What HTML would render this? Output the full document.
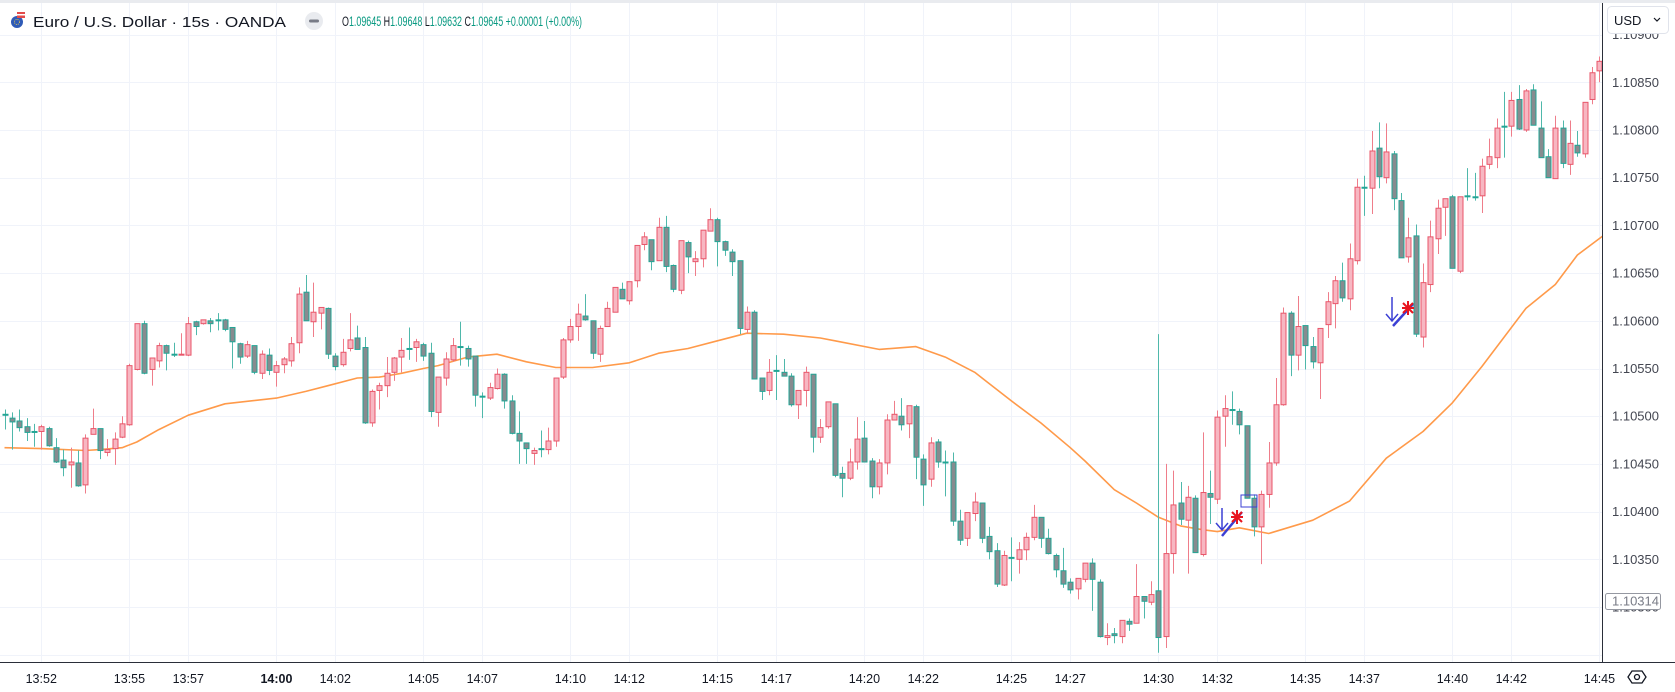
<!DOCTYPE html>
<html><head><meta charset="utf-8">
<style>
html,body{margin:0;padding:0;background:#fff;}
svg{display:block;font-family:"Liberation Sans",sans-serif;}
</style></head>
<body>
<svg id="chart" width="1675" height="692" viewBox="0 0 1675 692" xmlns="http://www.w3.org/2000/svg">
  <rect x="0" y="0" width="1675" height="692" fill="#ffffff"/>
  <rect x="0" y="0" width="1675" height="3" fill="#e9ebef"/>
  <g id="grid"></g>
  <g id="ma"></g>
  <g id="candles"></g>
  <g id="annotations">
    <g>
      <line x1="1222" y1="508" x2="1222" y2="529" stroke="#3b3fd4" stroke-width="1.5"/>
      <polyline points="1216,523 1222,530 1228,523" fill="none" stroke="#3b3fd4" stroke-width="1.5"/>
      <line x1="1222" y1="536" x2="1242" y2="512" stroke="#3b3fd4" stroke-width="2.5"/>
      <g stroke="#e8141e" stroke-width="2"><line x1="1231" y1="517" x2="1243" y2="517"/><line x1="1237" y1="510" x2="1237" y2="524"/><line x1="1232" y1="512" x2="1242" y2="522"/><line x1="1242" y1="512" x2="1232" y2="522"/></g>
      <rect x="1241" y="495" width="16" height="12" fill="none" stroke="#3b3fd4" stroke-width="1"/>
    </g>
    <g>
      <line x1="1392" y1="297" x2="1392" y2="320" stroke="#3b3fd4" stroke-width="1.5"/>
      <polyline points="1386,314 1392,321 1398,314" fill="none" stroke="#3b3fd4" stroke-width="1.5"/>
      <line x1="1393" y1="326" x2="1413" y2="304" stroke="#3b3fd4" stroke-width="2.5"/>
      <g stroke="#e8141e" stroke-width="2"><line x1="1402" y1="308" x2="1414" y2="308"/><line x1="1408" y1="301" x2="1408" y2="315"/><line x1="1403" y1="303" x2="1413" y2="313"/><line x1="1413" y1="303" x2="1403" y2="313"/></g>
    </g>
  </g>
  <rect x="1603" y="3" width="72" height="659" fill="#ffffff"/>
  <rect x="0" y="663" width="1675" height="29" fill="#ffffff"/>
  <line x1="1602.5" y1="3" x2="1602.5" y2="663" stroke="#2a2e39" stroke-width="1"/>
  <line x1="0" y1="662.5" x2="1675" y2="662.5" stroke="#2a2e39" stroke-width="1"/>
  <g id="yaxis"></g>
  <g id="xaxis"></g>
  <g>
    <rect x="1605.5" y="593.5" width="55" height="16" fill="#fff" stroke="#9598a1" rx="2"/>
    <text x="1612" y="605.5" font-size="13" fill="#787b86">1.10314</text>
  </g>
  <g>
    <rect x="1607.5" y="6.5" width="61" height="27" rx="4" fill="#fff" stroke="#e0e3eb"/>
    <text x="1614" y="25" font-size="13" fill="#131722">USD</text>
    <polyline points="1654,18 1657,21 1660,18" fill="none" stroke="#131722" stroke-width="1.2"/>
  </g>
  <g>
    <path d="M1628 677 L1632 671 L1642 671 L1646 677 L1642 683 L1632 683 Z" fill="none" stroke="#131722" stroke-width="1.3"/>
    <circle cx="1637" cy="677" r="2.5" fill="none" stroke="#131722" stroke-width="1.3"/>
  </g>
  <g>
    <g>
      <circle cx="17" cy="22" r="6" fill="#2f5bb7"/>
      <rect x="17" y="12" width="8" height="6" fill="#e24a4a"/>
      <rect x="17" y="14" width="8" height="1.5" fill="#fff"/>
      <circle cx="17" cy="22" r="2.5" fill="none" stroke="#f3d34a" stroke-width="0.8" stroke-dasharray="1 1"/>
    </g>
    <text x="33" y="27" font-size="15" fill="#131722" textLength="253" lengthAdjust="spacingAndGlyphs">Euro / U.S. Dollar · 15s · OANDA</text>
    <circle cx="314" cy="21" r="9" fill="#e9ebef"/>
    <rect x="309" y="19.5" width="10" height="3" rx="1.5" fill="#787b86"/>
    <text x="342" y="26" font-size="13.5" textLength="240" lengthAdjust="spacingAndGlyphs"><tspan fill="#131722">O</tspan><tspan fill="#089981">1.09645 </tspan><tspan fill="#131722">H</tspan><tspan fill="#089981">1.09648 </tspan><tspan fill="#131722">L</tspan><tspan fill="#089981">1.09632 </tspan><tspan fill="#131722">C</tspan><tspan fill="#089981">1.09645 +0.00001 (+0.00%)</tspan></text>
  </g>
</svg>
<script>
// prices stored in points (0.00001) above BASE = 1.10000
const BASE = 1.1;
const POINT = 0.00001;
const opens  = [502,498,495,489,484,484,487,467,454,449,451,428,481,487,462,466,478,491,549,597,549,558,574,565,564,564,599,597,600,601,601,593,576,563,574,545,564,546,554,558,577,630,599,608,613,563,554,571,582,572,493,527,532,546,562,571,572,575,566,504,540,559,573,571,563,521,519,529,544,516,482,472,461,466,465,474,541,580,594,605,600,565,594,609,633,621,642,680,685,663,698,658,632,682,662,665,694,706,683,672,663,591,609,540,527,548,546,542,512,527,544,478,489,513,440,435,452,477,453,426,451,496,500,492,510,455,434,473,452,452,390,372,398,409,374,359,323,352,350,360,373,394,372,354,338,326,319,329,346,326,268,272,269,285,283,311,305,317,269,356,409,391,414,355,419,413,500,507,505,490,414,384,418,451,512,608,564,595,573,556,596,618,642,623,663,740,739,781,750,775,726,667,689,583,638,686,719,730,652,731,730,731,764,771,804,804,832,800,842,802,772,749,802,764,784,775,832,862];
const highs  = [507,504,507,498,492,491,489,477,465,467,464,481,508,487,476,483,500,555,597,600,561,577,575,577,587,604,600,601,603,608,602,593,577,579,574,569,571,558,562,583,635,648,640,614,614,566,581,608,595,583,528,535,562,562,582,593,581,577,577,541,567,582,599,574,563,525,535,550,545,522,505,472,467,485,488,540,582,602,618,628,600,595,620,635,640,641,679,693,685,708,710,659,684,684,673,695,718,708,684,675,663,615,611,540,560,564,560,545,527,552,544,497,515,513,447,466,499,495,456,455,502,516,519,511,512,460,478,476,464,462,402,399,420,409,384,367,359,373,368,378,407,394,382,356,362,330,330,346,351,329,283,278,286,288,345,311,327,586,450,443,431,427,417,483,443,506,522,526,508,490,418,422,473,540,614,610,626,595,583,592,630,647,661,681,749,752,799,808,807,778,734,708,701,660,705,727,728,732,730,760,755,770,791,812,840,840,847,843,848,830,780,815,810,810,799,829,866,877];
const lows   = [486,465,484,474,468,465,468,451,437,425,426,419,481,455,458,449,477,490,548,544,532,551,548,562,564,563,585,596,588,590,589,550,555,561,544,539,543,531,545,552,566,600,583,591,560,548,552,568,570,492,489,507,520,537,546,559,557,558,499,489,532,557,553,552,510,498,517,528,508,481,450,450,449,457,460,468,539,577,579,600,560,557,594,609,623,617,635,674,653,663,651,630,628,650,647,656,694,657,668,647,586,587,539,517,522,517,542,510,497,510,462,472,487,436,415,433,444,452,414,418,439,496,485,477,434,406,426,446,416,385,365,364,390,367,350,321,322,327,335,349,370,362,355,331,320,314,308,326,296,268,260,262,262,275,283,288,302,252,257,335,386,335,357,353,387,408,468,491,481,414,374,345,404,448,511,542,548,549,550,518,582,592,620,611,659,710,712,739,744,716,666,661,583,572,630,670,689,655,650,726,726,713,759,760,771,793,800,798,805,771,750,749,760,753,772,771,827,850];
const closes = [501,494,488,483,483,489,469,452,446,452,427,477,487,464,465,476,492,553,597,545,561,574,566,565,565,597,594,601,597,600,591,578,562,575,546,565,548,553,560,576,628,600,609,614,565,552,567,580,570,493,526,532,545,561,569,571,578,563,505,541,560,574,572,560,522,520,530,544,516,482,474,466,464,465,474,540,580,594,607,601,566,592,613,635,623,641,679,688,662,698,657,633,684,667,665,695,706,683,674,662,592,609,539,526,546,547,542,512,527,546,478,488,515,438,435,452,476,452,426,451,496,502,491,511,457,428,472,452,451,390,370,399,410,372,358,324,354,351,360,373,394,372,356,339,324,318,330,346,329,269,270,270,286,282,311,306,313,268,356,407,392,415,357,420,415,499,508,506,491,414,384,418,451,512,608,564,594,574,557,592,620,642,624,665,740,739,778,751,777,728,666,687,586,640,688,718,728,655,730,730,729,762,772,802,803,831,801,841,805,771,750,802,765,786,776,829,860,872];
// moving average samples: candle index and value (points above BASE)
const maIdx = [0,5,11,13,16,18,21,25,30,37,41,44,48,51,54,57,59,63,67,71,75,80,85,89,93,97,101,106,111,113,119,124,128,132,137,141,145,147,151,154,157,160,163,165,168,172,178,183,188,193,197,201,207,211,214,218];
const maVal = [467,466,464,465,467,473,486,501,513,519,526,532,540,541,545,550,553,562,565,557,551,551,556,566,571,579,587,586,582,579,570,573,562,546,516,493,467,453,423,409,394,385,381,379,383,377,391,411,456,484,514,552,613,638,669,692];
// price axis ticks (points) and time axis ticks
const priceTicks = [250,300,350,400,450,500,550,600,650,700,750,800,850,900];
const timeLabels = ["13:52","13:55","13:57","14:00","14:02","14:05","14:07","14:10","14:12","14:15","14:17","14:20","14:22","14:25","14:27","14:30","14:32","14:35","14:37","14:40","14:42","14:45"];
const timeIdx    = [5,17,25,37,45,57,65,77,85,97,105,117,125,137,145,157,165,177,185,197,205,217];

const NS = "http://www.w3.org/2000/svg";
function yOf(v){ return 607 - (v - 300) * 0.954; }
function xOf(i){ return 4.5 + i * 7.35; }
function mk(tag, attrs, parent){
  const e = document.createElementNS(NS, tag);
  for (const k in attrs) e.setAttribute(k, attrs[k]);
  parent.appendChild(e);
  return e;
}
const grid = document.getElementById('grid');
const yaxis = document.getElementById('yaxis');
const xaxis = document.getElementById('xaxis');
priceTicks.forEach(function(v){
  const y = Math.round(yOf(v)) + 0.5;
  const gl = mk('line', {x1:0, x2:1602, y1:y, y2:y, stroke:'#f0f3fa', 'stroke-width':1}, grid);
  
  
  if (v >= 300) {
    const t = mk('text', {x:1612, y:yOf(v) + 4.5, 'font-size':13, fill:'#434651'}, yaxis);
    t.textContent = (BASE + v * POINT).toFixed(5);
    
    
  }
});
timeIdx.forEach(function(idx, k){
  const x = Math.round(xOf(idx)) + 0.5;
  const gl = mk('line', {x1:x, x2:x, y1:3, y2:662, stroke:'#f0f3fa', 'stroke-width':1}, grid);
  
  
  const t = mk('text', {x:xOf(idx), y:683, 'font-size':12.5, fill:'#131722', 'text-anchor':'middle'}, xaxis);
  if (timeLabels[k] === "14:00") t.setAttribute('font-weight', 'bold');
  t.textContent = timeLabels[k];
  
  
});
// moving average
const maG = document.getElementById('ma');
let d = '';
maIdx.forEach(function(idx, k){ d += (k ? 'L' : 'M') + xOf(idx).toFixed(1) + ' ' + yOf(maVal[k]).toFixed(1); });
const maPath = mk('path', {d:d, fill:'none', stroke:'#ff9a4a', 'stroke-width':1.6, 'stroke-linejoin':'round'}, maG);


// candles
const cg = document.getElementById('candles');
closes.forEach(function(c, i){
  const o = opens[i], h = highs[i], l = lows[i];
  const up = c > o;
  const g = mk('g', {}, cg);
  
  
  const x = Math.round(xOf(i));
  const wick = mk('line', {x1:x + 0.5, x2:x + 0.5, y1:yOf(h), y2:yOf(l), stroke: up ? '#ef7d8a' : '#4fb8ab', 'stroke-width':1}, g);
  
  
  const top = yOf(Math.max(o, c)), bot = yOf(Math.min(o, c));
  const body = mk('rect', {x:x - 2, y:top, width:5, height:Math.max(1, bot - top),
    fill: up ? '#f7b7c2' : '#878b8f', stroke: up ? '#e8566a' : '#22a595', 'stroke-width':1}, g);
  
  
});
</script>
</body></html>
